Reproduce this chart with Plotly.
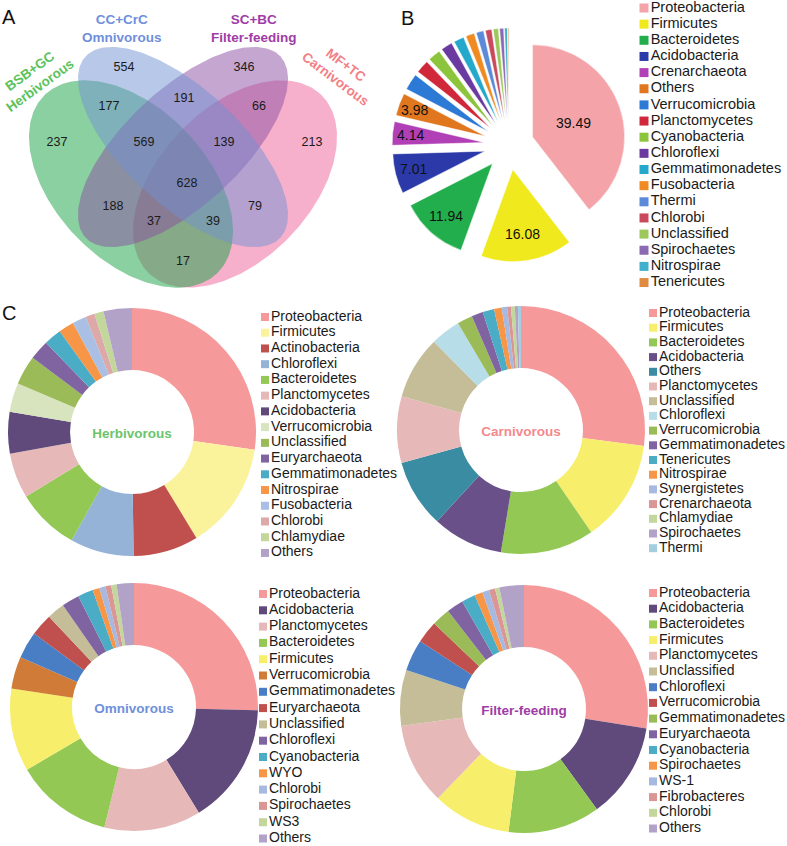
import numpy as np
import plotly.graph_objects as go

W, H = 787, 846
FONT = "Liberation Sans, Arial, sans-serif"

# ---------------- Panel A: Venn ----------------
venn_titles = ["BSB+GC<br>Herbivorous", "CC+CrC<br>Omnivorous", "SC+BC<br>Filter-feeding", "MF+TC<br>Carnivorous"]
venn_title_colors = ["#5cc25c", "#6f8fdc", "#a03ca6", "#f37f86"]
venn_regions = ["H", "O", "F", "C", "HO", "OF", "FC", "HOF", "OFC", "HOFC", "HF", "OC", "HFC", "HOC", "HC"]
venn_counts = [237, 554, 346, 213, 177, 191, 66, 569, 139, 628, 188, 79, 37, 39, 17]

# ---------------- Panel B: exploded pie ----------------
b_labels = ["Proteobacteria", "Firmicutes", "Bacteroidetes", "Acidobacteria", "Crenarchaeota", "Others",
            "Verrucomicrobia", "Planctomycetes", "Cyanobacteria", "Chloroflexi", "Gemmatimonadetes",
            "Fusobacteria", "Thermi", "Chlorobi", "Unclassified", "Spirochaetes", "Nitrospirae", "Tenericutes"]
b_values = [39.49, 16.08, 11.94, 7.01, 4.14, 3.98, 2.9, 2.3, 2.2, 2.0, 1.8, 1.5, 1.3, 1.1, 0.9, 0.7, 0.5, 0.16]
b_text = ["39.49", "16.08", "11.94", "7.01", "4.14", "3.98"] + [""] * 12
b_colors = ["#f4a3a8", "#f0e91e", "#22ae4c", "#2b3aa8", "#b13fb6", "#e0771e", "#2d7ad6", "#d0283a",
            "#8cc43c", "#6b3aa0", "#24a8cc", "#f08a22", "#5a8ad8", "#c84a5c", "#9cc85c", "#8a6ab2",
            "#42b0cc", "#e08a42"]

# ---------------- Panel C: donuts ----------------
herb_labels = ["Proteobacteria", "Firmicutes", "Actinobacteria", "Chloroflexi", "Bacteroidetes", "Planctomycetes",
               "Acidobacteria", "Verrucomicrobia", "Unclassified", "Euryarchaeota", "Gemmatimonadetes",
               "Nitrospirae", "Fusobacteria", "Chlorobi", "Chlamydiae", "Others"]
herb_values = [27.3, 14.0, 8.5, 8.3, 8.2, 5.9, 5.4, 3.8, 3.8, 2.6, 2.3, 2.0, 1.8, 1.2, 1.2, 3.7]
herb_colors = ["#f5999b", "#faf39c", "#c0504d", "#95b3d7", "#92c853", "#e6b9b8", "#604a7b", "#d7e4bd",
               "#9bbb59", "#8064a2", "#4bacc6", "#f79646", "#a9c0e4", "#dca8a8", "#c3d69b", "#b3a2c7"]

carn_labels = ["Proteobacteria", "Firmicutes", "Bacteroidetes", "Acidobacteria", "Others", "Planctomycetes",
               "Unclassified", "Chloroflexi", "Verrucomicrobia", "Gemmatimonadetes", "Tenericutes",
               "Nitrospirae", "Synergistetes", "Crenarchaeota", "Chlamydiae", "Spirochaetes", "Thermi"]
carn_values = [27.1, 13.4, 12.2, 9.25, 8.9, 8.7, 8.25, 3.9, 2.0, 1.5, 1.5, 1.0, 0.7, 0.5, 0.5, 0.4, 0.4]
carn_colors = ["#f5999b", "#f7ef6b", "#92c853", "#6a5088", "#3a8ca2", "#e6b9b8", "#c4bd97", "#b7dee8",
               "#9bbb59", "#8064a2", "#4bacc6", "#f79646", "#a6b9e0", "#d99694", "#c3d69b", "#b3a2c7",
               "#a5cde0"]

omni_labels = ["Proteobacteria", "Acidobacteria", "Planctomycetes", "Bacteroidetes", "Firmicutes",
               "Verrucomicrobia", "Gemmatimonadetes", "Euryarchaeota", "Unclassified", "Chloroflexi",
               "Cyanobacteria", "WYO", "Chlorobi", "Spirochaetes", "WS3", "Others"]
omni_values = [25.4, 15.8, 12.6, 12.7, 10.8, 4.2, 3.5, 2.9, 2.3, 2.3, 2.0, 0.9, 0.8, 0.75, 0.7, 2.25]
omni_colors = ["#f5999b", "#604a7b", "#e6b9b8", "#92c853", "#f7ef6b", "#d07c38", "#4a7ec4", "#c0504d",
               "#c4bd97", "#8064a2", "#4bacc6", "#f79646", "#a6b9e0", "#d99694", "#c3d69b", "#b3a2c7"]

filt_labels = ["Proteobacteria", "Acidobacteria", "Bacteroidetes", "Firmicutes", "Planctomycetes",
               "Unclassified", "Chloroflexi", "Verrucomicrobia", "Gemmatimonadetes", "Euryarchaeota",
               "Cyanobacteria", "Spirochaetes", "WS-1", "Fibrobacteres", "Chlorobi", "Others"]
filt_values = [27.5, 12.5, 12.0, 10.2, 10.6, 7.3, 4.1, 2.9, 2.4, 2.2, 1.8, 1.05, 0.9, 0.8, 0.55, 3.2]
filt_colors = ["#f5999b", "#604a7b", "#92c853", "#f7ef6b", "#e6b9b8", "#c4bd97", "#4a7ec4", "#c0504d",
               "#9bbb59", "#8064a2", "#4bacc6", "#f79646", "#a6b9e0", "#d99694", "#c3d69b", "#b3a2c7"]

donut_titles = ["Herbivorous", "Carnivorous", "Omnivorous", "Filter-feeding"]
donut_title_colors = ["#6cc46c", "#f4898e", "#6f8fdc", "#a03ca6"]

# ---------------- layout constants (pixels) ----------------
ellipses = [  # drawing order: pink, green, purple, blue
    dict(cx=235, cy=184, a=124, b=76, ang=-46, fill="rgba(239,97,153,0.5)"),
    dict(cx=131, cy=184, a=124, b=76, ang=46, fill="rgba(21,161,65,0.5)"),
    dict(cx=183, cy=147, a=133, b=58, ang=-43, fill="rgba(137,77,161,0.5)"),
    dict(cx=183, cy=147, a=133, b=58, ang=43, fill="rgba(113,145,209,0.5)"),
]
region_pos = {"H": (57, 143), "O": (124, 68), "F": (244, 68), "C": (312, 143), "HO": (109, 107),
              "OF": (184, 99), "FC": (259, 107), "HOF": (144, 143), "OFC": (224, 143), "HOFC": (187, 184),
              "HF": (113, 207), "OC": (255, 207), "HFC": (154, 222), "HOC": (213, 222), "HC": (183, 262)}
title_pos = [(35, 78, -36), (122, 28, 0), (254, 28, 0), (341, 72, 37)]
B_CX, B_CY, B_HALF, B_PULL = 509, 145, 117, 0.27
b_label_frac = [0.47, 0.71, 0.76, 0.80, 0.80, 0.82]


def dom(cx, cy, half):
    return dict(x=[(cx - half) / W, (cx + half) / W], y=[1 - (cy + half) / H, 1 - (cy - half) / H])


fig = go.Figure()

t = np.linspace(0, 2 * np.pi, 240)
for e in ellipses:
    th = np.radians(e["ang"])
    xs = e["cx"] + e["a"] * np.cos(t) * np.cos(th) - e["b"] * np.sin(t) * np.sin(th)
    ys = e["cy"] + e["a"] * np.cos(t) * np.sin(th) + e["b"] * np.sin(t) * np.cos(th)
    fig.add_trace(go.Scatter(x=xs, y=ys, mode="lines", fill="toself", fillcolor=e["fill"],
                             line=dict(width=0), hoverinfo="skip", showlegend=False))

fig.add_trace(go.Scatter(
    x=[region_pos[r][0] for r in venn_regions], y=[region_pos[r][1] for r in venn_regions],
    mode="text", text=[str(c) for c in venn_counts], cliponaxis=False,
    textfont=dict(family=FONT, size=12.5, color="#1a1a1a"), hoverinfo="skip", showlegend=False))

annotations = []
for txt, col, (x, y, ang) in zip(venn_titles, venn_title_colors, title_pos):
    annotations.append(dict(x=x, y=y, xref="x", yref="y", text="<b>%s</b>" % txt, showarrow=False,
                            textangle=ang, font=dict(family=FONT, size=13.5, color=col)))
for letter, (x, y) in zip(["A", "B", "C"], [(9, 17), (407, 18), (9, 313)]):
    annotations.append(dict(x=x, y=y, xref="x", yref="y", text=letter, showarrow=False,
                            font=dict(family=FONT, size=20, color="#111")))

# Panel B pie
fig.add_trace(go.Pie(labels=b_labels, values=b_values, textinfo="none",
                     marker=dict(colors=b_colors, line=dict(color="white", width=0.5)),
                     pull=[B_PULL] * len(b_values), sort=False, direction="clockwise", rotation=0,
                     domain=dom(B_CX, B_CY, B_HALF), showlegend=False, hoverinfo="label+value"))
# value labels of panel B placed along each slice's mid-angle (annotations sit above the pie layer)
bv = np.array(b_values)
mid = 2 * np.pi * (np.cumsum(bv) - bv / 2) / bv.sum()
r_b = B_HALF / (1 + B_PULL)
for i, frac in enumerate(b_label_frac):
    rad = r_b * (B_PULL + frac)
    annotations.append(dict(x=B_CX + rad * np.sin(mid[i]), y=B_CY - rad * np.cos(mid[i]),
                            xref="x", yref="y", text=b_text[i], showarrow=False,
                            font=dict(family=FONT, size=14, color="#111")))

# Panel C donuts
donuts = [
    (herb_labels, herb_values, herb_colors, (132, 432)),
    (carn_labels, carn_values, carn_colors, (521, 430)),
    (omni_labels, omni_values, omni_colors, (134, 707)),
    (filt_labels, filt_values, filt_colors, (524, 709)),
]
for (lab, val, col, (cx, cy)), title, tcol in zip(donuts, donut_titles, donut_title_colors):
    fig.add_trace(go.Pie(labels=lab, values=val, hole=0.5, textinfo="none", sort=False,
                         direction="clockwise", rotation=0, marker=dict(colors=col),
                         domain=dom(cx, cy, 124), showlegend=False, hoverinfo="label+value",
                         title=dict(text="<b>%s</b>" % title, position="middle center",
                                    font=dict(family=FONT, size=13.5, color=tcol))))

# Custom legends (swatch + label), stacked by index
legends = [
    (b_labels, b_colors, 644, 8, 16.15, 9, 14.5),
    (herb_labels, herb_colors, 265, 317, 15.73, 8, 14),
    (carn_labels, carn_colors, 653, 313, 14.7, 8, 14),
    (omni_labels, omni_colors, 263, 594, 16.3, 8, 14),
    (filt_labels, filt_colors, 653, 593, 15.7, 8, 14),
]
for lab, col, sx, y0, step, msize, fsize in legends:
    idx = np.arange(len(lab))
    fig.add_trace(go.Scatter(x=[sx] * len(lab), y=y0 + step * idx, mode="markers+text",
                             marker=dict(symbol="square", size=msize, color=col, line=dict(width=0)),
                             text=lab, textposition="middle right", cliponaxis=False,
                             textfont=dict(family=FONT, size=fsize, color="#1a1a1a"),
                             hoverinfo="skip", showlegend=False))

fig.update_layout(
    width=W, height=H, margin=dict(l=0, r=0, t=0, b=0),
    paper_bgcolor="white", plot_bgcolor="white", showlegend=False,
    xaxis=dict(range=[0, W], visible=False, domain=[0, 1], fixedrange=True),
    yaxis=dict(range=[H, 0], visible=False, domain=[0, 1], fixedrange=True),
    annotations=annotations,
)
fig.write_html("out.html", config={"displayModeBar": False},
               post_script="document.body.style.margin='0';document.body.style.overflow='hidden';")
